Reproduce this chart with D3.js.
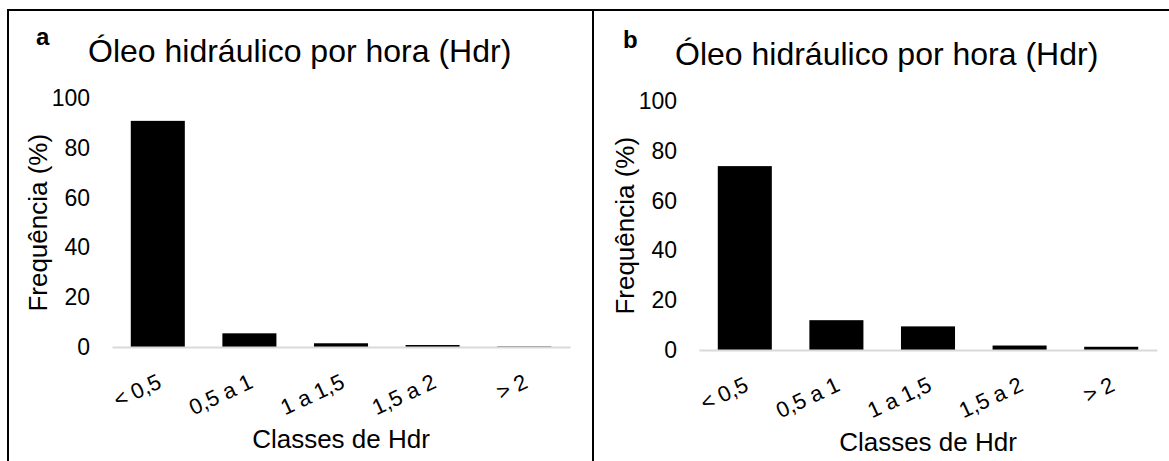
<!DOCTYPE html>
<html lang="pt">
<head>
	<meta charset="UTF-8">
	<title>Óleo hidráulico por hora (Hdr)</title>
	<style>
		body{ margin:0; background:#fff; }
		text{ font-family: "Liberation Sans", Arial, sans-serif; fill:#000; }
	</style>
</head>
<body>
	<script src="https://d3js.org/d3.v7.min.js"></script>
	<script>
		var width = 1169;
		var height = 461;

		// dados
		var classes = ['< 0,5', '0,5 a 1', '1 a 1,5', '1,5 a 2', '> 2'];
		var freqA = [91, 5.5, 1.5, 0.8, 0.2];
		var freqB = [74, 12, 9.5, 1.8, 1.3];
		var yTicks = [0, 20, 40, 60, 80, 100];
		var panelLetters = ['a', 'b'];
		var titulo = 'Óleo hidráulico por hora (Hdr)';
		var yTitulo = 'Frequência (%)';
		var xTitulo = 'Classes de Hdr';

		var svg = d3.select('body')
					.append('svg')
					.attr('width', width)
					.attr('height', height);

		// moldura da tabela
		svg.append('line').attr('x1',7).attr('x2',width).attr('y1',10).attr('y2',10)
			.attr('stroke','#000').attr('stroke-width',2);
		svg.append('line').attr('x1',8).attr('x2',8).attr('y1',9).attr('y2',height)
			.attr('stroke','#000').attr('stroke-width',2);
		svg.append('line').attr('x1',593).attr('x2',593).attr('y1',9).attr('y2',height)
			.attr('stroke','#000').attr('stroke-width',2);

		function drawPanel(ox, oy, letter, values){
			var g = svg.append('g').attr('transform','translate(' + ox + ',' + oy + ')');
			var x0 = 112, x1 = 570, y0 = 347, y1 = 98.5;

			var x = d3.scaleBand().domain(classes).range([x0, x1])
						.paddingInner(0.41).paddingOuter(0.205);
			var y = d3.scaleLinear().domain([0, 100]).range([y0, y1]);

			g.append('text').attr('x',36).attr('y',45)
				.attr('font-size',24).attr('font-weight','bold').text(letter);
			g.append('text').attr('x',88).attr('y',62)
				.attr('font-size',32).text(titulo);

			// eixo y (só os rótulos)
			var yAxis = d3.axisLeft(y).tickValues(yTicks).tickSize(0).tickPadding(22);
			var ya = g.append('g').attr('transform','translate(' + x0 + ',0)').call(yAxis);
			ya.select('.domain').remove();
			ya.selectAll('text').attr('font-size',23).attr('font-family','"Liberation Sans", Arial, sans-serif')
				.attr('fill','#000');

			g.selectAll('rect')
				.data(values)
				.enter()
				.append('rect')
				.attr('x', function(d,i){ return x(classes[i]); })
				.attr('y', function(d){ return y(d); })
				.attr('width', x.bandwidth())
				.attr('height', function(d){ return y0 - y(d); })
				.attr('fill','#000');

			// eixo x
			var xAxis = d3.axisBottom(x).tickSize(0).tickPadding(0);
			var xa = g.append('g').attr('transform','translate(0,' + y0 + ')').call(xAxis);
			xa.select('.domain').attr('stroke','#d9d9d9').attr('stroke-width',2);
			xa.selectAll('.tick text')
				.attr('font-size',22)
				.attr('font-family','"Liberation Sans", Arial, sans-serif')
				.attr('fill','#000')
				.attr('text-anchor','end')
				.attr('dy',0)
				.attr('y',0)
				.attr('transform','translate(5,40) rotate(-25)');

			g.append('text').attr('x',(x0 + x1) / 2).attr('y',448)
				.attr('text-anchor','middle').attr('font-size',26).text(xTitulo);
			g.append('text').attr('transform','translate(47,' + ((y0 + y1) / 2) + ') rotate(-90)')
				.attr('text-anchor','middle').attr('font-size',26).text(yTitulo);
		}

		drawPanel(0, 0, panelLetters[0], freqA);
		drawPanel(587, 3, panelLetters[1], freqB);
	</script>
</body>
</html>
